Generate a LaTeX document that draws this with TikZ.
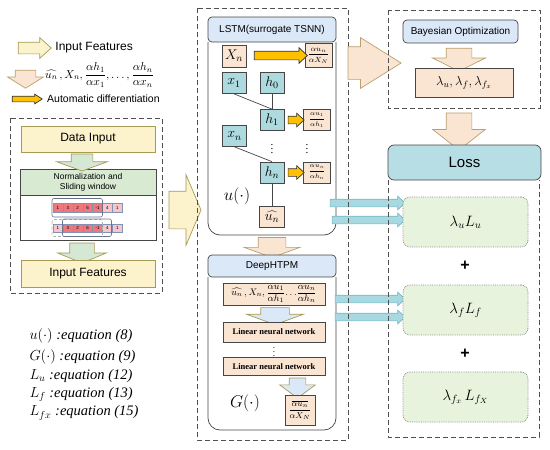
\RequirePackage{fix-cm}
\documentclass[tikz,border=0pt]{standalone}
\usepackage{fontspec}
\setmainfont{Liberation Serif}
\setsansfont{Liberation Sans}
\usetikzlibrary{shapes.arrows,positioning,calc}

\definecolor{boxline}{RGB}{70,70,70}
\definecolor{dashline}{RGB}{80,80,80}
\definecolor{yelfill}{RGB}{252,242,204}
\definecolor{yeldraw}{RGB}{165,155,85}
\definecolor{grnfill}{RGB}{217,234,211}
\definecolor{grnarrow}{RGB}{213,232,212}
\definecolor{beifill}{RGB}{250,228,210}
\definecolor{beidraw}{RGB}{185,160,110}
\definecolor{tealfill}{RGB}{172,218,222}
\definecolor{bluehead}{RGB}{218,232,247}
\definecolor{orng}{RGB}{255,192,0}
\definecolor{tarrow}{RGB}{168,216,224}
\definecolor{tarrowd}{RGB}{115,185,198}
\definecolor{lossfill}{RGB}{182,222,228}
\definecolor{grnlight}{RGB}{232,243,222}
\definecolor{cellred}{RGB}{238,120,125}
\definecolor{cellpink}{RGB}{246,198,200}
\definecolor{cellline}{RGB}{130,145,180}

\tikzset{
  box/.style={draw=boxline,line width=0.7pt,inner sep=1pt},
  yelbox/.style={box,draw=yeldraw,fill=yelfill,minimum width=134pt,font=\sffamily\fontsize{12}{14}\selectfont},
  beibox/.style={box,fill=beifill},
  lstmcell/.style={box,fill=tealfill,minimum width=24pt,minimum height=21pt,font=\fontsize{14}{16}\selectfont},
  headbox/.style={box,fill=bluehead,rounded corners=4pt,font=\sffamily\fontsize{10}{12}\selectfont},
  linbox/.style={beibox,minimum width=102pt,font=\bfseries\fontsize{8.5}{10}\selectfont},
  lossterm/.style={draw=black!45,densely dotted,line width=0.8pt,fill=grnlight,rounded corners=7pt,
    minimum width=125pt,minimum height=50pt,font=\fontsize{15}{17}\selectfont},
  dashbox/.style={draw=dashline,line width=0.8pt,dash pattern=on 5pt off 3pt},
  % length, head width, half body, head extend, tip angle
  fatarr/.style n args={5}{single arrow,inner xsep=0pt,inner ysep=#3pt,outer sep=0pt,line width=0.7pt,
    minimum height=#1pt,minimum width=#2pt,single arrow head extend=#4pt,single arrow tip angle=#5},
  cell/.style={draw=cellline,line width=0.3pt,minimum width=9.9pt,minimum height=8.5pt,inner sep=0pt,
    font=\sffamily\fontsize{4.5}{5}\selectfont},
  win/.style={draw=cellline!80!black,line width=0.6pt,rounded corners=2pt},
  eqline/.style={anchor=west,font=\itshape\fontsize{14.5}{16}\selectfont},
  dots/.style={inner sep=0pt,font=\fontsize{11}{11}\selectfont},
}

\begin{document}
\begin{tikzpicture}[x=1pt,y=-1pt]
\useasboundingbox (0,0) rectangle (550,450);

% legend
\node[fatarr={33}{20}{5.5}{4.5}{84},fill=yelfill,draw=yeldraw] (legin) at (31.5,48) {};
\node[right=4pt of legin,inner sep=0pt,font=\sffamily\fontsize{12}{14}\selectfont] (leginlab) {Input Features};
\node[fatarr={18}{35}{10}{7.5}{116},fill=beifill,draw=beidraw,rotate=-90] (legdown) at (25.5,76) {};
\node[anchor=west,inner sep=0pt,font=\fontsize{11.5}{13}\selectfont] (legdownlab) at (45,75)
  {$\widehat{u_n}\,,X_n,\displaystyle\frac{\alpha h_1}{\alpha x_1},\ldots,\frac{\alpha h_n}{\alpha x_n}$};
\node[fatarr={30}{9}{2.5}{2}{66},fill=orng,draw=black!80] (legad) at (25,99) {};
\node[anchor=west,inner sep=0pt,font=\sffamily\fontsize{10.5}{12}\selectfont] (legadlab) at (47,99) {Automatic differentiation};

% data preparation
\node[yelbox,minimum height=26pt] (datain) at (88,139) {Data Input};
\node[box,fill=grnfill,minimum width=136pt,minimum height=26pt,align=center,
  font=\sffamily\fontsize{8.5}{10}\selectfont] (norm) at (88,182) {Normalization and\\Sliding window};
\node[box,minimum width=136pt,minimum height=45pt,anchor=north] (window) at (norm.south) {};
\node[fatarr={17}{50}{10.5}{14.5}{140},fill=grnarrow,draw=yeldraw,rotate=-90] (arrdn) at (82,160.5) {};

\foreach \i/\v/\c in {1/1/cellred,2/3/cellred,3/2/cellred,4/6/cellred,5/-1/cellred,6/4/cellpink,7/1/cellpink}
  \node[cell,fill=\c] (ra\i) at ({48.05+9.9*\i},207.5) {\v};
\foreach \i/\v/\c in {1/1/cellpink,2/3/cellred,3/2/cellred,4/6/cellred,5/-1/cellred,6/4/cellpink,7/1/cellpink}
  \node[cell,fill=\c] (rb\i) at ({48.05+9.9*\i},228) {\v};
\draw[win] (52,198.5) rectangle (102.5,217);
\draw[win,draw=black!30,densely dashed] (52,219.5) rectangle (102.5,236.5);
\draw[win] (62.5,219) rectangle (111.5,236.5);

\node[fatarr={20}{48}{12}{12}{135},fill=grnarrow,draw=yeldraw,rotate=-90] (arrwin) at (82,250.5) {};
\node[yelbox,minimum height=27pt] (featin) at (88,273.5) {Input Features};
\draw[dashbox] (10,118) rectangle (162,293);

\node[fatarr={32}{70}{18.5}{16.5}{134},fill=yelfill,draw=yeldraw] (arrfeat) at (181,210) {};

% LSTM
\draw[box,rounded corners=12pt] (208,42) -- (208,235) -- (336,235) -- (336,42);
\node[headbox,minimum width=128pt,minimum height=25pt] (lstmtitle) at (272,29.5) {LSTM(surrogate TSNN)};
\node[beibox,minimum width=24pt,minimum height=22pt,font=\fontsize{14}{16}\selectfont] (Xn) at (234,56) {$X_n$};
\node[beibox,minimum width=27pt,minimum height=24pt,font=\fontsize{7.5}{9}\selectfont] (dXn) at (318.5,55.5)
  {$\displaystyle\frac{\alpha u_n}{\alpha X_N}$};
\node[fatarr={53}{15}{4}{3.5}{86},fill=orng,draw=black!80] (adX) at (278.5,55.5) {};

\node[lstmcell] (x1) at (234,83) {$x_1$};
\node[lstmcell] (h0) at (272,82.5) {$h_0$};
\node[lstmcell] (h1) at (272,120) {$h_1$};
\node[lstmcell] (xn) at (234.5,136) {$x_n$};
\node[lstmcell] (hn) at (272,172.5) {$h_n$};
\node[beibox,minimum width=25pt,minimum height=21pt,font=\fontsize{14}{16}\selectfont] (uhat) at (272,217) {$\widehat{u_n}$};
\node[beibox,minimum width=27pt,minimum height=21pt,font=\fontsize{6.5}{8}\selectfont] (dh1) at (317,120)
  {$\displaystyle\frac{\alpha u_1}{\alpha h_1}$};
\node[beibox,minimum width=27pt,minimum height=21pt,font=\fontsize{6.5}{8}\selectfont] (dhn) at (317,172.5)
  {$\displaystyle\frac{\alpha u_n}{\alpha h_n}$};
\node[fatarr={16}{13}{3.5}{3}{85},fill=orng,draw=black!80] (ad1) at (294,120) {};
\node[fatarr={16}{13}{3.5}{3}{85},fill=orng,draw=black!80] (adn) at (294,172.5) {};
\node[dots] (vd1) at (272,146) {$\vdots$};
\node[dots] (vd2) at (307,146) {$\vdots$};
\node[font=\fontsize{17}{19}\selectfont] (ulab) at (237,196) {$u(\cdot)$};

\draw[boxline,line width=0.7pt] (h0) -- (h1);
\draw[boxline,line width=0.7pt] (x1.south) -- (h1.north);
\draw[boxline,line width=0.7pt] (xn.south) -- (hn.north);
\draw[boxline,line width=0.7pt] (hn) -- (uhat);

\node[fatarr={20}{55}{13.5}{14}{140},fill=beifill,draw=beidraw,rotate=-90] (arrlstm) at (272,245) {};

% DeepHTPM
\draw[box,rounded corners=12pt] (208,277) -- (208,430) -- (336,430) -- (336,277);
\node[headbox,minimum width=128pt,minimum height=22pt] (deeptitle) at (272,266) {DeepHTPM};
\node[beibox,minimum width=102pt,minimum height=22pt,font=\fontsize{9.5}{10}\selectfont] (deepin) at (274,294)
  {$\widehat{u_n}\,,X_n,\displaystyle\frac{\alpha u_1}{\alpha h_1}\!\ldots\!\frac{\alpha u_n}{\alpha h_n}$};
\node[fatarr={17}{56}{14}{14}{140},fill=bluehead,draw=yeldraw,rotate=-90] (arrin) at (275,313.5) {};
\node[linbox,minimum height=20pt] (lin1) at (274,332) {Linear neural network};
\node[dots,font=\fontsize{9}{9}\selectfont] (vd3) at (274,349.5) {$\vdots$};
\node[linbox,minimum height=18pt] (lin2) at (274,366.5) {Linear neural network};
\node[fatarr={20}{35}{8}{9.5}{107},fill=bluehead,draw=yeldraw,rotate=-90] (arrout) at (297.5,385) {};
\node[beibox,minimum width=30pt,minimum height=30pt,font=\fontsize{8.5}{10}\selectfont] (Gout) at (300,410)
  {$\displaystyle\frac{\overline{\alpha u_n}}{\alpha X_N}$};
\node[font=\fontsize{17}{19}\selectfont] (Glab) at (245,403) {$G(\cdot)$};

% arrows to loss
\node[fatarr={75}{13}{3.5}{3}{85},fill=tarrow,draw=tarrowd] (tu1) at (365.5,203) {};
\node[fatarr={73}{13}{3.5}{3}{85},fill=tarrow,draw=tarrowd] (tu2) at (366.5,220) {};
\node[fatarr={70}{13}{3.5}{3}{85},fill=tarrow,draw=tarrowd] (tf1) at (368,299) {};
\node[fatarr={70}{13}{3.5}{3}{85},fill=tarrow,draw=tarrowd] (tf2) at (368,317) {};
\draw[dashbox] (197,8) rectangle (348,440);

\node[fatarr={53}{50}{16}{9}{64},fill=beifill,draw=beidraw] (arrbo) at (361.5,63) {};

% Bayesian optimization
\node[headbox,minimum width=115pt,minimum height=23pt] (bayes) at (460.5,31.5) {Bayesian Optimization};
\node[fatarr={23}{52}{12.5}{13.5}{127},fill=beifill,draw=beidraw,rotate=-90] (arrbay) at (459,56.5) {};
\node[beibox,minimum width=98pt,minimum height=29pt,font=\fontsize{13}{15}\selectfont] (lam) at (464,82.5)
  {$\lambda_u,\lambda_f,\lambda_{f_x}$};
\draw[dashbox] (388,10) rectangle (540,108);
\node[fatarr={37}{52}{12.5}{13.5}{104},fill=beifill,draw=beidraw,rotate=-90] (arrlam) at (459,126.5) {};

% loss
\node[box,fill=lossfill,rounded corners=6pt,minimum width=153pt,minimum height=35pt,
  font=\sffamily\fontsize{15}{18}\selectfont] (loss) at (464.5,162.5) {Loss};
\draw[dashbox] (388,180) -- (388,437) -- (539,437) -- (539,180);
\node[lossterm] (Lu) at (465.5,222) {$\lambda_uL_u$};
\node[font=\sffamily\bfseries\fontsize{16}{18}\selectfont] (plus1) at (465,266) {+};
\node[lossterm] (Lf) at (465.5,310) {$\lambda_fL_f$};
\node[font=\sffamily\bfseries\fontsize{16}{18}\selectfont] (plus2) at (465,354) {+};
\node[lossterm] (Lfx) at (465.5,397) {$\lambda_{f_x}\,L_{f_X}$};

% equations
\node[eqline] (equ) at (26,336) {$u(\cdot)$ :equation (8)};
\node[eqline] (eqG) at (26,357) {$G(\cdot)$ :equation (9)};
\node[eqline] (eqLu) at (26,376) {$L_u$ :equation (12)};
\node[eqline] (eqLf) at (26,394.5) {$L_f$ :equation (13)};
\node[eqline] (eqLfx) at (26,413) {$L_{fx}$ :equation (15)};

\end{tikzpicture}
\end{document}
